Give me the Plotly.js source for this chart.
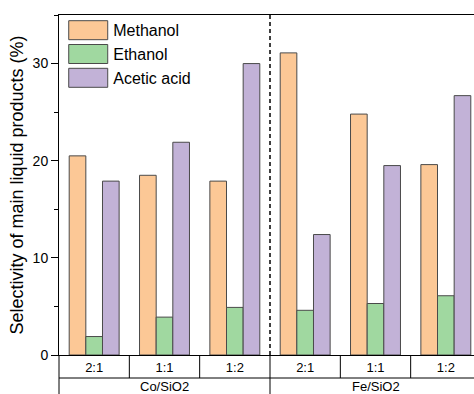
<!DOCTYPE html>
<html>
<head>
<meta charset="utf-8">
<script src="https://cdn.plot.ly/plotly-3.0.1.min.js"></script>
<style>
html,body{margin:0;padding:0;overflow:hidden;background:#fff;width:474px;height:394px;}
#chart{width:500px;height:394px;}
</style>
</head>
<body>
<div id="chart"></div>
<script>
// ---- data ----
var catalysts = ["Co/SiO2", "Co/SiO2", "Co/SiO2", "Fe/SiO2", "Fe/SiO2", "Fe/SiO2"];
var ratios = ["2:1", "1:1", "1:2", "2:1", "1:1", "1:2"];
var groupNames = ["Co/SiO2", "Fe/SiO2"];
var methanol = [20.5, 18.5, 17.9, 31.1, 24.8, 19.6];
var ethanol = [1.9, 3.9, 4.9, 4.6, 5.3, 6.1];
var aceticAcid = [17.9, 21.9, 30.0, 12.4, 19.5, 26.7];
var seriesNames = ["Methanol", "Ethanol", "Acetic acid"];

var ids = catalysts.map(function (c, i) { return c + " " + ratios[i]; });
var FONT = "Liberation Sans, Arial, sans-serif";
var colors = ["#FCC896", "#A0D8A0", "#C2B2D7"];
var edge = "#4a4a4a";

var traces = [methanol, ethanol, aceticAcid].map(function (vals, k) {
  return {
    type: "bar", x: ids, y: vals, name: seriesNames[k],
    marker: {color: colors[k], line: {color: edge, width: 1}}
  };
});

var rowBottom = -23 / 340;
var pageBottom = -40 / 340;
var shapes = [];
// dashed separator between catalyst groups (in plot area) and solid in table
shapes.push({type: "line", xref: "x", yref: "paper", x0: 2.5, x1: 2.5, y0: 0, y1: 1,
  line: {color: "#000", width: 1.5, dash: "4px,3px"}});
shapes.push({type: "line", xref: "x", yref: "paper", x0: 2.5, x1: 2.5, y0: pageBottom, y1: 0,
  line: {color: "#000", width: 1}});
[0.5, 1.5, 3.5, 4.5].forEach(function (v) {
  shapes.push({type: "line", xref: "x", yref: "paper", x0: v, x1: v, y0: rowBottom, y1: 0,
    line: {color: "#000", width: 1}});
});
shapes.push({type: "line", xref: "x domain", yref: "paper", x0: 0, x1: 0, y0: pageBottom, y1: 0,
  line: {color: "#000", width: 1}});
shapes.push({type: "line", xref: "x domain", yref: "paper", x0: 0, x1: 1, y0: rowBottom, y1: rowBottom,
  line: {color: "#000", width: 1}});

var annotations = groupNames.map(function (g, i) {
  return {xref: "x", yref: "paper", x: 1 + 3 * i, y: -31.5 / 340, yanchor: "middle",
    text: g, showarrow: false, font: {family: FONT, size: 13, color: "#000"}};
});

var layout = {
  width: 500, height: 394,
  margin: {l: 59, r: 19, t: 15, b: 39},
  paper_bgcolor: "#fff", plot_bgcolor: "#fff",
  barmode: "group", bargap: 0.29, bargroupgap: 0,
  font: {family: FONT, color: "#000"},
  showlegend: true,
  legend: {x: 0.01, xanchor: "left", y: 1.005, yanchor: "top", bgcolor: "rgba(0,0,0,0)",
    font: {family: FONT, size: 16, color: "#000"}, itemwidth: 40, tracegroupgap: 0},
  xaxis: {type: "category", tickvals: ids, ticktext: ratios, ticks: "",
    showline: true, linecolor: "#000", linewidth: 1, mirror: true,
    tickfont: {family: FONT, size: 13, color: "#000"}, showgrid: false, fixedrange: true},
  yaxis: {range: [0, 35], dtick: 10, tick0: 0, ticks: "outside", ticklen: 7, tickwidth: 1,
    tickcolor: "#000", showline: true, linecolor: "#000", linewidth: 1, mirror: true,
    showgrid: false, zeroline: false,
    minor: {dtick: 5, tick0: 0, ticks: "outside", ticklen: 4, tickcolor: "#000", showgrid: false},
    tickfont: {family: FONT, size: 14, color: "#000"},
    title: {text: "Selectivity of main liquid products (%)", font: {family: FONT, size: 18, color: "#000"}, standoff: 4}},
  shapes: shapes,
  annotations: annotations
};

Plotly.newPlot("chart", traces, layout, {displayModeBar: false, staticPlot: true}).then(function () {
  document.querySelectorAll(".legend .legendpoints path").forEach(function (p) {
    p.setAttribute("d", "M19.5,9.5H-19.5V-9.5H19.5Z");
  });
});
</script>
</body>
</html>
